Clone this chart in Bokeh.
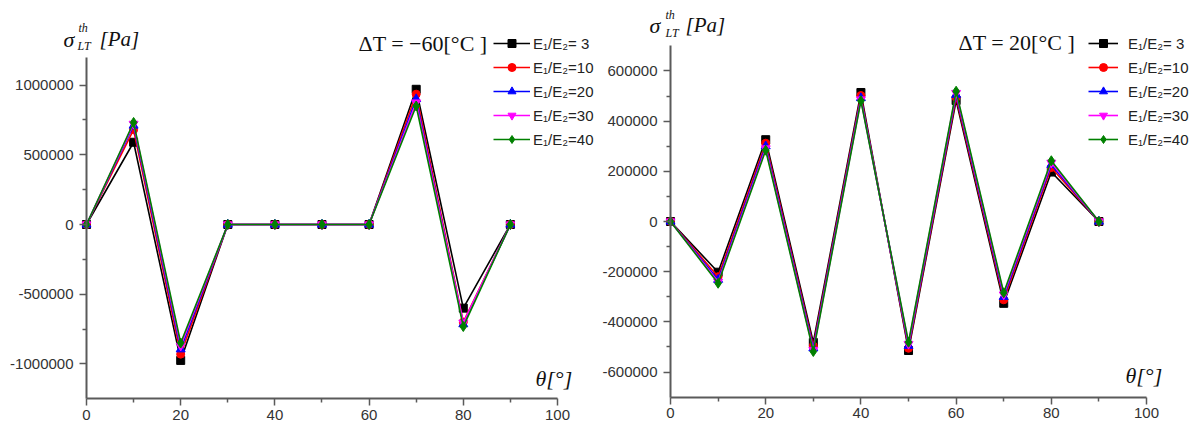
from bokeh.plotting import figure
from bokeh.layouts import row
from bokeh.models import Legend, LegendItem, Label, FixedTicker, NumeralTickFormatter, Range1d
from bokeh.embed import file_html
from bokeh.resources import INLINE

# ---------------- data ----------------
theta = [0, 10, 20, 30, 40, 50, 60, 70, 80, 90]
series_labels = ["E\u2081/E\u2082= 3", "E\u2081/E\u2082=10", "E\u2081/E\u2082=20",
                 "E\u2081/E\u2082=30", "E\u2081/E\u2082=40"]

# Delta T = -60 C
left_e3 = [0, 590000, -975000, 0, 0, 0, 0, 970000, -600000, 0]
left_e10 = [0, 680000, -930000, 0, 0, 0, 0, 935000, -700000, 0]
left_e20 = [0, 710000, -895000, 0, 0, 0, 0, 900000, -715000, 0]
left_e30 = [0, 722000, -870000, 0, 0, 0, 0, 875000, -705000, 0]
left_e40 = [0, 732000, -850000, 0, 0, 0, 0, 850000, -732000, 0]

# Delta T = 20 C
right_e3 = [0, -202000, 326000, -482000, 514000, -514000, 482000, -326000, 197000, 0]
right_e10 = [0, -220000, 312000, -496000, 502000, -505000, 494000, -312000, 215000, 0]
right_e20 = [0, -232000, 300000, -505000, 492000, -495000, 505000, -300000, 226000, 0]
right_e30 = [0, -240000, 291000, -512000, 486000, -488000, 512000, -291000, 234000, 0]
right_e40 = [0, -246000, 284000, -518000, 481000, -481000, 519000, -284000, 242000, 0]

x_major = [0, 20, 40, 60, 80, 100]
x_minor = [10, 30, 50, 70, 90]
left_y_major = [-1000000, -500000, 0, 500000, 1000000]
left_y_minor = [-750000, -250000, 250000, 750000]
right_y_major = [-600000, -400000, -200000, 0, 200000, 400000, 600000]
right_y_minor = [-500000, -300000, -100000, 100000, 300000, 500000]

colors = ["black", "#ff0000", "#0000ff", "#ff00ff", "#008000"]
markers = ["square", "circle", "triangle", "inverted_triangle", "diamond"]
sizes = [8, 8, 9, 9, 10]

AXIS_COLOR = "#5a5a5a"
TICK_FONT = "Liberation Sans"
SERIF = "Liberation Serif"
FIG_W = 599
FIG_H = 423


def make_fig(x_range, y_range, y_bounds, y_major, y_minor,
             series, legend_x, glyph_w, standoff, labels):
    p = figure(width=FIG_W, height=FIG_H, output_backend="svg", toolbar_location=None,
               x_range=Range1d(*x_range), y_range=Range1d(*y_range),
               min_border_left=0, min_border_right=0,
               min_border_top=0, min_border_bottom=0)
    p.outline_line_color = None
    p.xgrid.visible = False
    p.ygrid.visible = False
    p.background_fill_color = "white"
    p.border_fill_color = "white"

    xa = p.xaxis[0]
    xa.ticker = FixedTicker(ticks=x_major, minor_ticks=x_minor)
    xa.bounds = (0, 100)
    xa.fixed_location = y_bounds[0]
    ya = p.yaxis[0]
    ya.ticker = FixedTicker(ticks=y_major, minor_ticks=y_minor)
    ya.bounds = y_bounds
    ya.fixed_location = 0
    ya.formatter = NumeralTickFormatter(format="0")
    for ax in (xa, ya):
        ax.axis_line_color = AXIS_COLOR
        ax.axis_line_width = 2
        ax.major_tick_line_color = AXIS_COLOR
        ax.minor_tick_line_color = AXIS_COLOR
        ax.major_tick_line_width = 1.5
        ax.minor_tick_line_width = 1.5
        ax.major_tick_out = 7
        ax.major_tick_in = 0
        ax.minor_tick_out = 4
        ax.minor_tick_in = 0
        ax.major_label_text_font = TICK_FONT
        ax.major_label_text_font_size = "15px"
        ax.major_label_text_color = "#333333"
    xa.major_label_standoff = 4
    ya.major_label_standoff = 6

    items = []
    for ys, c, m, s, lab in zip(series, colors, markers, sizes, series_labels):
        r1 = p.line(theta, ys, line_color=c, line_width=1.6)
        r2 = p.scatter(theta, ys, marker=m, size=s, fill_color=c, line_color=c)
        items.append(LegendItem(label=lab, renderers=[r1, r2]))

    leg = Legend(items=items, location=(legend_x, 274), orientation="vertical",
                 glyph_width=glyph_w, glyph_height=20, label_height=20,
                 label_standoff=standoff, spacing=4, padding=0, margin=0,
                 border_line_color=None, background_fill_alpha=0,
                 label_text_font=TICK_FONT, label_text_font_size="15px",
                 label_text_color="#222222")
    p.add_layout(leg, "center")

    for (txt, x, y, size, style) in labels:
        p.add_layout(Label(x=x, y=y, x_units="screen", y_units="screen", text=txt,
                           text_font=SERIF, text_font_size=size, text_font_style=style,
                           text_color="#111111", text_baseline="middle",
                           text_align="left"))
    return p


left_labels = [
    ("\u03c3", 63, 384, "22px", "italic"),
    ("th", 78, 396, "12px", "italic"),
    ("LT", 77, 378, "12px", "italic"),
    ("[Pa]", 99, 385, "21px", "italic"),
    ("\u0394T  = \u221260[\u00b0C ]", 358, 380, "22px", "normal"),
    ("\u03b8[\u00b0]", 535, 45, "22px", "italic"),
]
right_labels = [
    ("\u03c3", 50, 398, "22px", "italic"),
    ("th", 66, 409, "12px", "italic"),
    ("LT", 66, 391, "12px", "italic"),
    ("[Pa]", 86, 399, "21px", "italic"),
    ("\u0394T  = 20[\u00b0C ]", 359, 381, "22px", "normal"),
    ("\u03b8[\u00b0]", 526, 48, "22px", "italic"),
]

p1 = make_fig((-18.26, 108.92), (-1427500, 1606900), (-1250000, 1200000),
              left_y_major, left_y_minor,
              [left_e3, left_e10, left_e20, left_e30, left_e40],
              493, 37, 3, left_labels)
p2 = make_fig((-14.92, 110.92), (-804800, 880500), (-700000, 700000),
              right_y_major, right_y_minor,
              [right_e3, right_e10, right_e20, right_e30, right_e40],
              489, 30, 10, right_labels)

layout = row(p1, p2)
open("out.html", "w").write(file_html(layout, INLINE))
